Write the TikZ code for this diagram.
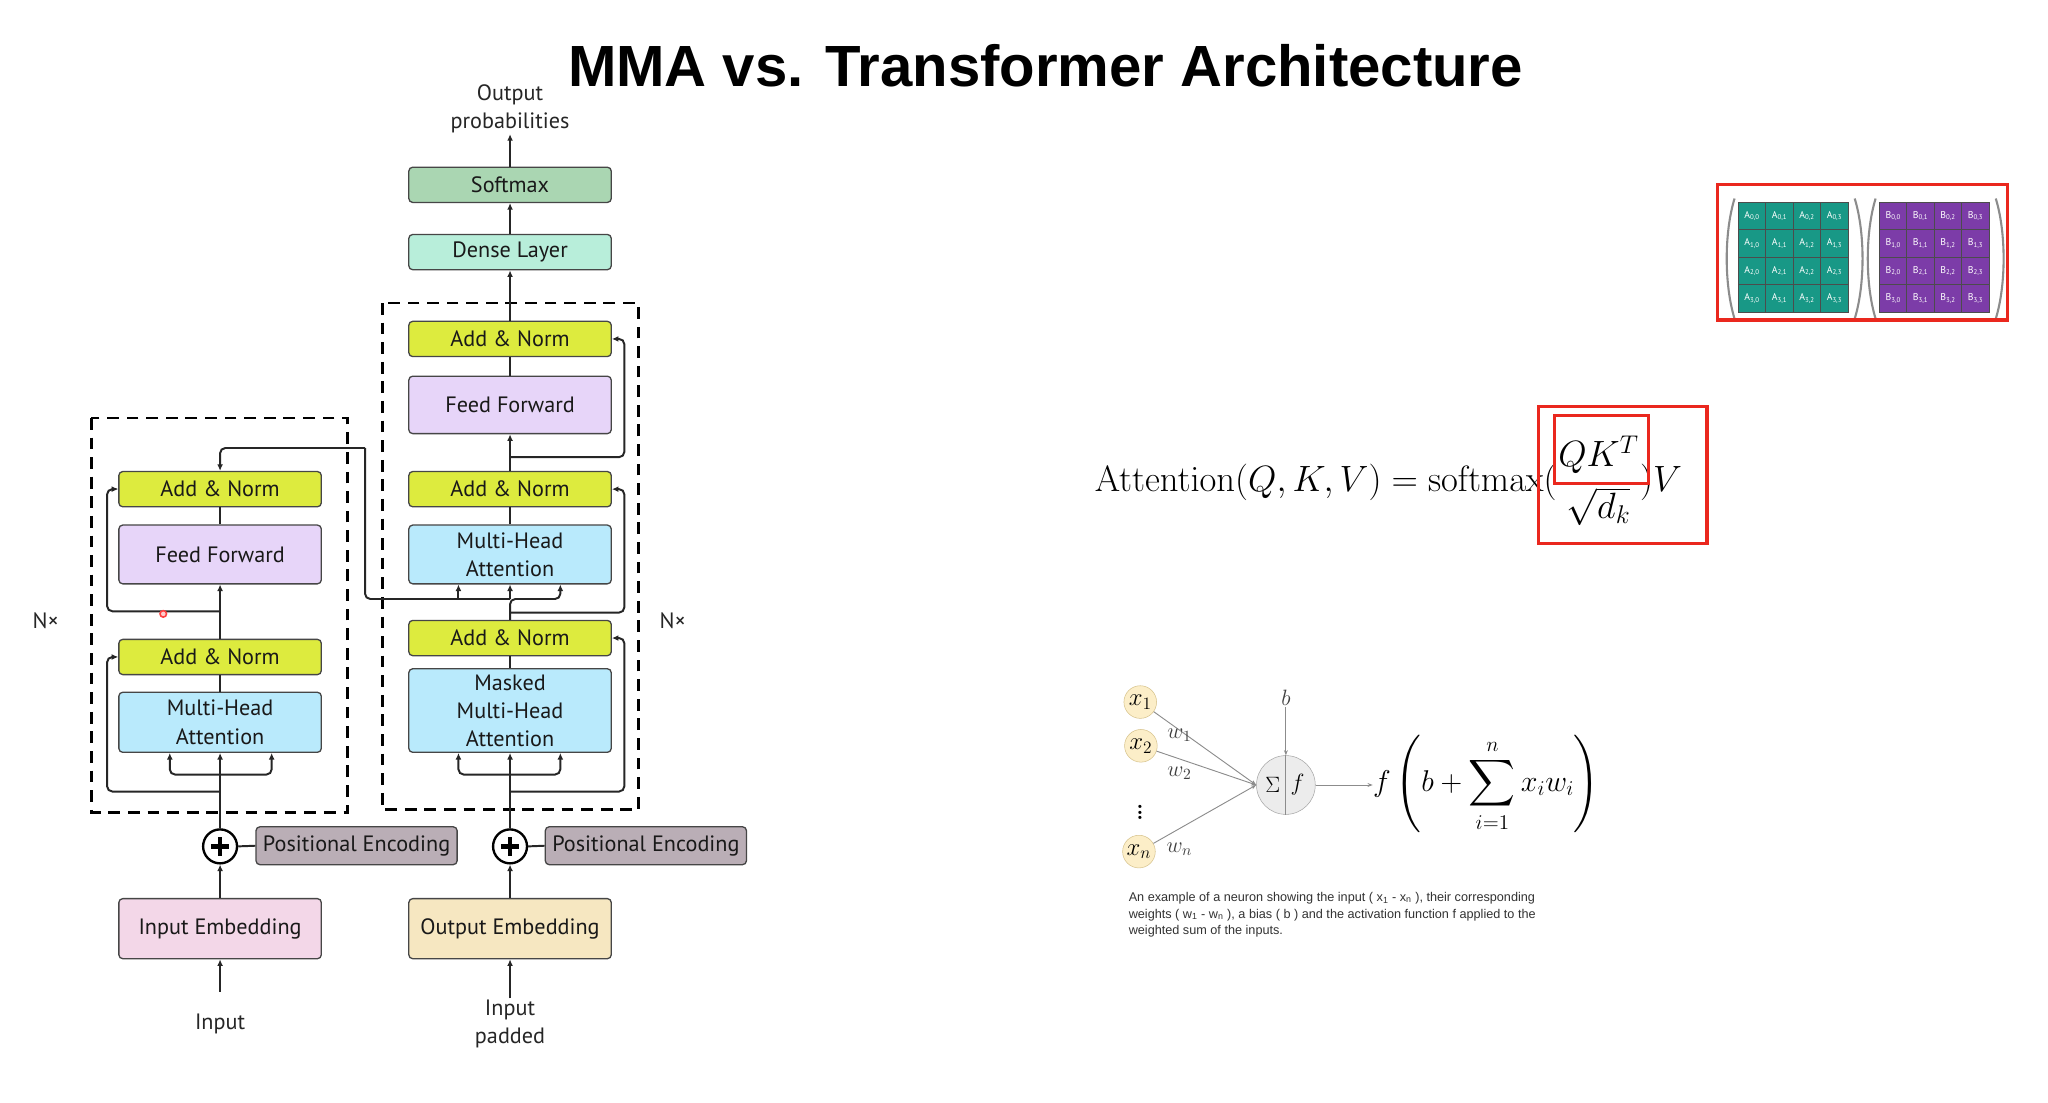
\RequirePackage{fix-cm}
\documentclass[tikz,border=0pt]{standalone}
\usepackage[no-math]{fontspec}
\usepackage{amsmath}
\newfontfamily\boxfont{PT Sans}
\newfontfamily\titlefont{Liberation Sans}
\newfontfamily\capfont{Liberation Sans}
\usetikzlibrary{arrows.meta, positioning, calc}

\definecolor{addnormcol}{RGB}{221,235,62}
\definecolor{ffcol}{RGB}{231,213,249}
\definecolor{attcol}{RGB}{185,234,252}
\definecolor{softcol}{RGB}{170,214,178}
\definecolor{densecol}{RGB}{184,238,218}
\definecolor{poscol}{RGB}{186,174,182}
\definecolor{inembcol}{RGB}{243,215,232}
\definecolor{outembcol}{RGB}{246,231,193}
\definecolor{boxline}{RGB}{70,70,70}
\definecolor{hlred}{RGB}{234,40,30}
\definecolor{matA}{RGB}{24,152,134}
\definecolor{matB}{RGB}{124,60,168}
\definecolor{nodeyel}{RGB}{252,238,200}
\definecolor{nodeyelline}{RGB}{215,195,140}
\definecolor{neurgray}{RGB}{236,236,236}

\tikzset{
	layer/.style={draw=boxline, line width=1pt, rounded corners=3pt, minimum width=155pt,
		align=center, inner sep=0pt, text=black!90,
		font=\boxfont\fontsize{17}{21.5}\selectfont},
	addnorm/.style={layer, fill=addnormcol, minimum height=27pt},
	ffwd/.style={layer, fill=ffcol, minimum height=45pt},
	attn/.style={layer, fill=attcol, minimum height=45pt},
	posenc/.style={layer, fill=poscol, minimum width=154pt, minimum height=29pt},
	embed/.style={layer, minimum height=46pt},
	lbl/.style={align=center, inner sep=1pt, text=black!85, font=\boxfont\fontsize{17}{21.5}\selectfont},
	addop/.style={circle, draw=black, line width=1.8pt, minimum size=26pt, inner sep=0pt, fill=white,
		path picture={
			\draw[line width=3.5pt] ([xshift=-7pt]path picture bounding box.center) -- ([xshift=7pt]path picture bounding box.center);
			\draw[line width=3.5pt] ([yshift=-7pt]path picture bounding box.center) -- ([yshift=7pt]path picture bounding box.center);}},
	link/.style={line width=1.5pt, black!85},
	arr/.style={link, -{Latex[length=5pt,width=4.5pt]}},
	stack/.style={line width=2.2pt, dash pattern=on 9pt off 6pt},
	cellA/.style={draw=black!70, line width=0.8pt, fill=matA, minimum size=21pt, inner sep=0pt,
		text=white, font=\boxfont\fontsize{7.5}{8}\selectfont},
	cellB/.style={cellA, fill=matB},
	xin/.style={circle, draw=nodeyelline, fill=nodeyel, minimum size=25pt, inner sep=0pt,
		font=\fontsize{19}{21}\selectfont},
	syn/.style={draw=black!45, line width=0.7pt, -{Stealth[length=4pt,width=3pt]}},
	wlbl/.style={inner sep=1pt, text=black!75, font=\fontsize{17}{19}\selectfont},
	hlbox/.style={draw=hlred, line width=2.5pt}
}

\begin{document}
\begin{tikzpicture}[x=1pt, y=-1pt]
	\useasboundingbox (0,0) rectangle (1568,844);
	\fill[white] (0,0) rectangle (1568,844);

	\node[font=\titlefont\bfseries\fontsize{44.5}{50}\selectfont] (title) at (800.5,50) {MMA vs. Transformer Architecture};

	% encoder / decoder stacks
	\draw[stack] (70,320) rectangle (266,622);
	\draw[stack] (293,232) rectangle (489,620);

	\node[lbl] (outlbl) at (390.5,83) {Output\\probabilities};
	\node[layer, fill=softcol, minimum height=27pt] (soft) at (390.5,141.5) {Softmax};
	\node[layer, fill=densecol, minimum height=27pt] (dense) at (390.5,193) {Dense Layer};
	\node[addnorm] (decan1) at (390.5,259.5) {Add \& Norm};
	\node[ffwd, minimum height=44pt] (decff) at (390.5,310) {Feed Forward};
	\node[addnorm] (decan2) at (390.5,374.5) {Add \& Norm};
	\node[attn] (decmha) at (390.5,424.5) {Multi-Head\\Attention};
	\node[addnorm] (decan3) at (390.5,488.5) {Add \& Norm};
	\node[attn, minimum height=64pt] (decmmha) at (390.5,544) {Masked\\Multi-Head\\Attention};

	\node[addnorm] (encan1) at (168.5,374.5) {Add \& Norm};
	\node[ffwd] (encff) at (168.5,424.5) {Feed Forward};
	\node[addnorm] (encan2) at (168.5,503) {Add \& Norm};
	\node[attn, minimum height=46pt] (encmha) at (168.5,553) {Multi-Head\\Attention};

	\node[addop] (encplus) at (168.5,648) {};
	\node[addop] (decplus) at (390.5,648) {};
	\node[posenc] (encpos) at (273,647.5) {Positional Encoding};
	\node[posenc] (decpos) at (494.5,647.5) {Positional Encoding};
	\node[embed, fill=inembcol] (inemb) at (168.5,711) {Input Embedding};
	\node[embed, fill=outembcol] (outemb) at (390.5,711) {Output Embedding};
	\node[lbl] (inlbl) at (168.5,784) {Input};
	\node[lbl] (padlbl) at (390.5,784) {Input\\padded};
	\node[lbl] (encn) at (35,475) {N×};
	\node[lbl] (decn) at (515,475) {N×};

	% encoder connectors
	\draw[arr] ([yshift=16pt]inlbl.north) -- (inemb.south);
	\draw[arr] (inemb.north) -- (encplus.south);
	\draw[link] (encplus.east) -- (encpos.west);
	\draw[arr] (encplus.north) -- (encmha.south);
	\coordinate (encsplit) at (168.5,593);
	\draw[arr, rounded corners=4pt] (encsplit) -| ([xshift=-38.5pt]encmha.south);
	\draw[arr, rounded corners=4pt] (encsplit) -| ([xshift=39.5pt]encmha.south);
	\coordinate (encres1) at (168.5,606);
	\draw[arr, rounded corners=4pt] (encres1) -- (82,606) |- (encan2.west);
	\draw[link] (encmha.north) -- (encan2.south);
	\draw[arr] (encan2.north) -- (encff.south);
	\coordinate (encres2) at (168.5,468);
	\draw[arr, rounded corners=4pt] (encres2) -- (82,468) |- (encan1.west);
	\draw[link] (encff.north) -- (encan1.south);
	\coordinate (encout) at (279.5,343);
	\coordinate (kv) at (390.5,458.6);
	\draw[arr, rounded corners=4pt] (encout) -| (encan1.north);
	\draw[link, rounded corners=4pt] (encout) |- (kv);

	% decoder connectors
	\draw[arr] (padlbl.north) -- (outemb.south);
	\draw[arr] (outemb.north) -- (decplus.south);
	\draw[link] (decplus.east) -- (decpos.west);
	\draw[arr] (decplus.north) -- (decmmha.south);
	\coordinate (decsplit) at (390.5,593);
	\draw[arr, rounded corners=4pt] (decsplit) -| ([xshift=-39.5pt]decmmha.south);
	\draw[arr, rounded corners=4pt] (decsplit) -| ([xshift=38.5pt]decmmha.south);
	\coordinate (decres1) at (390.5,606);
	\draw[arr, rounded corners=4pt] (decres1) -- (478,606) |- (decan3.east);
	\draw[link] (decmmha.north) -- (decan3.south);
	\coordinate (decres2) at (390.5,469);
	\draw[arr, rounded corners=4pt] (decres2) -- (478,469) |- (decan2.east);
	\coordinate (decin1) at ([xshift=-39.5pt]decmha.south);
	\coordinate (decin3) at ([xshift=38.5pt]decmha.south);
	\draw[arr] (decin1 |- kv) -- (decin1);
	\draw[arr] (kv) -- (decmha.south);
	\draw[arr, rounded corners=4pt] (decan3.north) |- (decin3 |- kv) -- (decin3);
	\draw[link] (decmha.north) -- (decan2.south);
	\draw[arr] (decan2.north) -- (decff.south);
	\coordinate (decres3) at (390.5,350);
	\draw[arr, rounded corners=4pt] (decres3) -- (478,350) |- (decan1.east);
	\draw[link] (decff.north) -- (decan1.south);
	\draw[arr] (decan1.north) -- (dense.south);
	\draw[arr] (dense.north) -- (soft.south);
	\draw[arr] (soft.north) -- (outlbl.south);

	\draw[red!75, line width=1.2pt, fill=red!20] (125,470) circle (2.5pt);

	% matrices A and B
	\foreach \r in {0,...,3}\foreach \c in {0,...,3}{
		\node[cellA] (a\r\c) at (1341.5+21*\c,165.5+21*\r) {A\textsubscript{\r,\c}};
		\node[cellB] (b\r\c) at (1449.5+21*\c,165.5+21*\r) {B\textsubscript{\r,\c}};
	}
	\draw[black!45, line width=1.6pt] (1328,152) .. controls (1320,178) and (1320,218) .. (1328,244);
	\draw[black!45, line width=1.6pt] (1420,152) .. controls (1428,178) and (1428,218) .. (1420,244);
	\draw[black!45, line width=1.6pt] (1436,152) .. controls (1428,178) and (1428,218) .. (1436,244);
	\draw[black!45, line width=1.6pt] (1528,152) .. controls (1536,178) and (1536,218) .. (1528,244);
	\draw[hlbox] (1315,141) rectangle (1537,245);

	% attention formula
	\node[anchor=west, inner sep=0pt, font=\fontsize{28}{32}\selectfont] (attform) at (838,368)
		{$\displaystyle \mathrm{Attention}(Q,K,V) = \mathrm{softmax}(\frac{QK^T}{\sqrt{d_k}})V$};
	\draw[hlbox] (1178,311) rectangle (1307,416);
	\draw[hlbox] (1190,318) rectangle (1262,370);

	% neuron
	\node[xin] (x1) at (873,537.5) {$x_1$};
	\node[xin] (x2) at (873.5,571) {$x_2$};
	\node[xin] (xn) at (872,652) {$x_n$};
	\node[inner sep=0pt, font=\fontsize{30}{32}\selectfont] (vd) at (873,619) {$\vdots$};
	\node[circle, draw=black!35, fill=neurgray, minimum size=45pt, inner sep=0pt] (sum) at (984.5,601) {};
	\draw[black!45, line width=0.7pt] (sum.north) -- (sum.south);
	\node[font=\fontsize{17}{19}\selectfont] (sigma) at ([xshift=-10pt]sum.center) {$\Sigma$};
	\node[font=\fontsize{18}{20}\selectfont] (fact) at ([xshift=9pt]sum.center) {$f$};
	\node[wlbl] (bias) at (984.5,534.5) {$b$};
	\draw[syn] (bias.south) -- (sum.north);
	\draw[syn] (x1) -- (sum.west);
	\draw[syn] (x2) -- (sum.west);
	\draw[syn] (xn) -- (sum.west);
	\node[wlbl] (w1) at (903,563) {$w_1$};
	\node[wlbl] (w2) at (903,592) {$w_2$};
	\node[wlbl] (wn) at (903,650) {$w_n$};
	\node[anchor=west, inner sep=0pt, font=\fontsize{23}{26}\selectfont] (fout) at (1051,600)
		{$\displaystyle f\left(b+\sum_{i=1}^{n} x_i w_i\right)$};
	\draw[syn] (sum.east) -- (sum.east -| fout.west);
	\node[anchor=north west, align=left, inner sep=0pt, text=black!80, font=\capfont\fontsize{9.7}{12.8}\selectfont] (capt) at (864,683)
		{An example of a neuron showing the input ( x\textsubscript{1} - x\textsubscript{n} ), their corresponding\\
		weights ( w\textsubscript{1} - w\textsubscript{n} ), a bias ( b ) and the activation function f applied to the\\
		weighted sum of the inputs.};
\end{tikzpicture}
\end{document}
